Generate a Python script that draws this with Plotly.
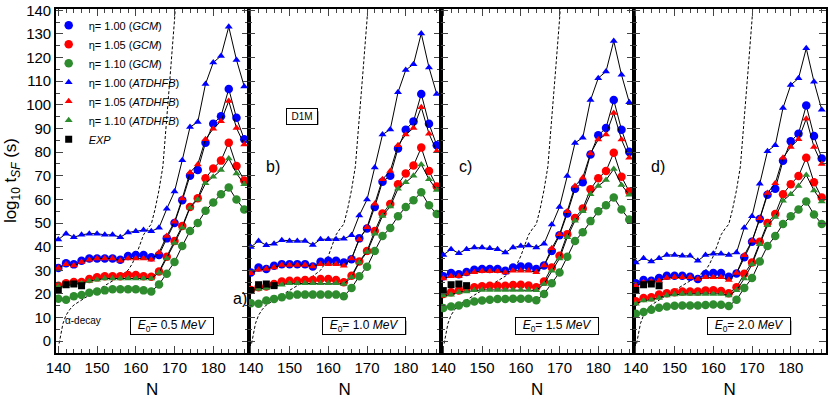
import plotly.graph_objects as go
from plotly.subplots import make_subplots

# ---------------------------------------------------------------
# Daten
# ---------------------------------------------------------------
N = list(range(140, 189, 2))

# E0 = 0.5 MeV
gcm100_a = [31, 33, 32.5, 34, 35, 35, 35, 35, 34.5, 36, 36.5, 36.5, 35.5, 36.5, 43.5, 50, 59.6, 70, 72.4, 84, 92, 95.2, 106.7, 94.5, 85.4]
gcm105_a = [23.5, 24.5, 25, 25, 26.3, 27, 27.5, 27.5, 27.5, 28, 28, 27.5, 27.3, 29.5, 35.7, 42.4, 48.7, 56.8, 60.5, 68.9, 73.1, 76.4, 84, 74.1, 68]
gcm110_a = [18, 17.5, 19, 19.5, 20.5, 21, 21.5, 22, 22, 22, 22, 21.5, 21, 24, 28.5, 33.5, 40.3, 46.6, 50, 55.2, 58.7, 62.2, 65, 59.9, 55.7]
atd100_a = [43, 45.5, 44, 45, 45.5, 45.5, 45, 45, 44, 46, 46.5, 47, 46.5, 48, 56, 63.3, 76.6, 90.6, 92.7, 108.8, 117.9, 120.7, 133, 119, 107.8]
atd105_a = [31, 32.5, 32, 33.5, 34.5, 35, 35, 35, 34, 35, 35, 35, 34.5, 37.5, 44.5, 50.5, 60.4, 71.4, 74.8, 85.4, 89.9, 93.1, 101.6, 90.2, 83.2]
atd110_a = [23, 23.5, 24, 24.5, 25.5, 26, 26.5, 26.5, 26.5, 26.5, 26.5, 26.5, 26.5, 29, 35, 41.5, 48, 56.5, 60, 66.8, 69.6, 72.4, 77.3, 71, 66.4]

# E0 = 1.0 MeV
gcm100_b = [29.1, 31.2, 30.5, 31.9, 32.6, 32.6, 32.6, 32.6, 31.6, 33.6, 34, 34, 33.3, 34.7, 43.5, 47.7, 56.8, 67.5, 70, 81.5, 89.5, 93, 104.6, 92, 82.9]
gcm105_b = [21.7, 22.8, 23.1, 24.2, 25.2, 25.6, 25.6, 25.9, 25.9, 26.3, 26.3, 25.9, 24.9, 27.7, 33.7, 38.2, 46.6, 54, 58, 66.4, 71, 74.3, 81.9, 72, 65.5]
gcm110_b = [16.1, 15.8, 17.2, 17.9, 18.6, 19.3, 19.7, 19.7, 19.7, 19.7, 19.7, 19.7, 19, 22.5, 27.5, 31.5, 38.2, 44.5, 47.9, 52.9, 56.8, 59.6, 63, 57.5, 53.8]
atd100_b = [39.8, 42.4, 40.6, 41.2, 42.7, 42.4, 42.4, 42.4, 40.7, 43.1, 43.1, 43.1, 43.3, 44.8, 53.2, 59.9, 73.5, 87.4, 89.6, 105.3, 114.7, 117.2, 130.2, 115.8, 104.6]
atd105_b = [28.7, 30.2, 30.5, 31.2, 32.2, 32.2, 32.2, 32.2, 31.6, 32.6, 32.6, 32.6, 31.9, 35, 43, 48.2, 58.2, 68.5, 72, 82.9, 87.4, 90.2, 99, 87.8, 80.4]
atd110_b = [21.4, 22.1, 22.5, 23.5, 23.9, 24.5, 24.5, 24.5, 24.5, 24.5, 24.5, 24.5, 24.2, 27, 33.3, 37.7, 45.5, 53, 57, 64.5, 67.2, 70, 74.8, 68.5, 64]

# E0 = 1.5 MeV
gcm100_c = [27.5, 28.8, 28.3, 29.3, 30.2, 30.5, 30.5, 30.5, 29.8, 31.2, 31.6, 31.6, 30.5, 32, 38.2, 44.8, 54, 64.5, 67.2, 79, 87.1, 90.2, 102, 89.5, 80.1]
gcm105_c = [20, 20.7, 21.4, 22.5, 22.8, 23.2, 23.5, 23.5, 23.5, 23.8, 23.9, 23.6, 22.8, 25.2, 31.2, 36.1, 45.2, 52.1, 56.1, 64.3, 68.9, 72, 79.7, 69.6, 63.3]
gcm110_c = [14, 14.7, 15.1, 16.1, 16.8, 17.2, 17.5, 17.8, 17.8, 18, 18, 18, 17.3, 20, 24.5, 29.1, 35.7, 42.4, 46.1, 50.8, 55, 57.5, 60.8, 55.7, 51.5]
atd100_c = [36.5, 38.9, 37.2, 38.9, 39.6, 39.6, 39.3, 38.9, 37.5, 39.6, 40.3, 40.5, 39.6, 41.2, 49.4, 56.8, 69.9, 83.9, 86.1, 102, 111.3, 114.1, 127, 112.7, 101.1]
atd105_c = [26.5, 27.5, 27.5, 28.5, 29.2, 29.6, 29.6, 29.6, 29.1, 29.8, 29.8, 29.8, 29.2, 32, 39.3, 45.2, 55, 65.7, 69.2, 79.4, 85.3, 87.5, 96.5, 85.3, 77.6]
atd110_c = [19.3, 19.6, 20.7, 21, 21.5, 21.7, 21.7, 21.7, 21.7, 21.7, 21.7, 21.7, 21.5, 24.2, 29.8, 35, 44, 51, 55, 62.2, 65.7, 68.2, 72.8, 66.1, 62]

# E0 = 2.0 MeV
gcm100_d = [24.5, 25.9, 25.6, 26.7, 27.7, 27.7, 27.7, 27.3, 26.3, 28.4, 28.8, 28.8, 27.3, 28.6, 35.5, 42.1, 51.7, 62, 64.5, 76.3, 84.6, 87.8, 99.7, 86.8, 77.3]
gcm105_d = [16.9, 18.3, 18.6, 19.7, 20.3, 20.7, 21, 21, 21, 21.4, 21.5, 21.2, 20.3, 22.8, 28.5, 33.3, 42.1, 50, 53.8, 62.2, 66.4, 69.9, 77.6, 67.2, 60.8]
gcm110_d = [11.6, 12.3, 13.3, 14.1, 14.7, 15, 15.1, 15.1, 15.1, 15.3, 15.5, 15.4, 14.9, 17.5, 22.5, 26.7, 33.7, 40.3, 44.5, 49.6, 52.9, 55.7, 59.1, 53.6, 49.6]
atd100_d = [33.3, 35.1, 33.7, 35.1, 36.5, 36.5, 36.1, 36.1, 34, 36.5, 37, 37, 36.5, 37.5, 48, 52.9, 66.6, 80.4, 82.9, 98.7, 108.4, 111.2, 123.9, 109.8, 97.9]
atd105_d = [23.5, 24.9, 25.2, 25.6, 26.7, 27, 27, 27, 26.3, 27, 27, 27, 25.9, 28.8, 36.4, 42.5, 52, 62.7, 66.8, 77.6, 82.2, 85.4, 94.1, 82.2, 75]
atd110_d = [15.8, 17.2, 17.5, 18.3, 19.3, 19.7, 20, 20, 20, 20, 20, 20, 19.3, 21.5, 26.5, 32.5, 41, 49, 52.5, 59.4, 62.2, 65.7, 70.3, 63.8, 59.1]

# Experiment
N_exp = [140, 142, 144, 146]
exp_val = [21.4, 23.9, 24.2, 23.5]

# alpha-Zerfall (gestrichelt)
alpha_n = [140.2, 140.7, 141.2, 142, 143, 144, 146, 148, 150, 152, 154, 156, 158, 159, 160,
           161, 162, 163, 164, 165, 166, 167, 168, 169, 170, 171]
alpha_v = [-1, 4, 7.5, 11, 13.5, 15.3, 17.5, 19.5, 21.5, 23.5, 25.5, 27.5, 30, 32.5, 36,
           40.5, 45, 47.5, 49.5, 56, 64, 74, 93, 115, 136, 160]

E0_labels = ["0.5", "1.0", "1.5", "2.0"]
panel_tags = ["a)", "b)", "c)", "d)"]

BLUE = "#0000ff"
RED = "#ff0000"
GREEN = "#2e8b2e"
FONT = "Liberation Sans, Arial, sans-serif"

series = [
    ("η= 1.00 (<i>GCM</i>)", [gcm100_a, gcm100_b, gcm100_c, gcm100_d], BLUE, "circle", 8.5),
    ("η= 1.05 (<i>GCM</i>)", [gcm105_a, gcm105_b, gcm105_c, gcm105_d], RED, "circle", 8.5),
    ("η= 1.10 (<i>GCM</i>)", [gcm110_a, gcm110_b, gcm110_c, gcm110_d], GREEN, "circle", 8.5),
    ("η= 1.00 (<i>ATDHFB</i>)", [atd100_a, atd100_b, atd100_c, atd100_d], BLUE, "triangle-up", 7),
    ("η= 1.05 (<i>ATDHFB</i>)", [atd105_a, atd105_b, atd105_c, atd105_d], RED, "triangle-up", 7),
    ("η= 1.10 (<i>ATDHFB</i>)", [atd110_a, atd110_b, atd110_c, atd110_d], GREEN, "triangle-up", 7),
]

fig = make_subplots(rows=1, cols=4, shared_yaxes=True, horizontal_spacing=0)

for p in range(4):
    col = p + 1
    # alpha-decay
    fig.add_trace(go.Scatter(x=alpha_n, y=alpha_v, mode="lines", showlegend=False,
                             line=dict(color="black", width=1, dash="3px,2px"),
                             hoverinfo="skip"), row=1, col=col)
    for name, data, color, sym, size in series:
        fig.add_trace(go.Scatter(
            x=N, y=data[p], mode="lines+markers", name=name, showlegend=False,
            line=dict(color="black", width=1),
            marker=dict(color=color, symbol=sym, size=size, line=dict(width=0))
        ), row=1, col=col)
    fig.add_trace(go.Scatter(
        x=N_exp, y=exp_val, mode="markers", name="EXP", showlegend=False,
        marker=dict(color="black", symbol="square", size=7, line=dict(width=0))
    ), row=1, col=col)

# Legende nur mit Symbolen
for name, data, color, sym, size in series:
    fig.add_trace(go.Scatter(x=[None], y=[None], mode="markers", name=name,
                             marker=dict(color=color, symbol=sym, size=size)), row=1, col=1)
fig.add_trace(go.Scatter(x=[None], y=[None], mode="markers", name="<i>EXP</i>",
                         marker=dict(color="black", symbol="square", size=7)), row=1, col=1)

# Achsen
for p in range(4):
    col = p + 1
    fig.update_xaxes(range=[139.4, 189.1], tick0=140, dtick=10, ticks="inside", ticklen=7,
                     tickwidth=1.2, showline=True, linewidth=1.6, linecolor="black",
                     mirror="allticks", showgrid=False, zeroline=False,
                     minor=dict(ticks="inside", dtick=2, ticklen=4, tickwidth=1),
                     tickfont=dict(size=15, family=FONT, color="black"),
                     title=dict(text="N", font=dict(size=17, family=FONT, color="black"), standoff=8),
                     row=1, col=col)
    fig.update_yaxes(range=[-5, 140.55], tick0=0, dtick=10, ticks="inside", ticklen=7,
                     tickwidth=1.2, showline=True, linewidth=1.6, linecolor="black",
                     mirror="allticks", showgrid=False, zeroline=False,
                     ticklabeloverflow="allow",
                     minor=dict(ticks="inside", dtick=5, ticklen=4, tickwidth=1),
                     tickfont=dict(size=15, family=FONT, color="black"),
                     row=1, col=col)

annotations = []
shapes = []
for p in range(4):
    xr = "x" if p == 0 else f"x{p + 1}"
    yr = "y" if p == 0 else f"y{p + 1}"
    tag_x, tag_y = (186.8, 18) if p == 0 else (145.6, 74)
    annotations.append(dict(x=tag_x, y=tag_y, xref=xr, yref=yr, text=panel_tags[p],
                            showarrow=False, font=dict(size=16, family=FONT, color="black")))
    # Schatten des E0-Kastens
    shapes.append(dict(type="rect", xref=xr, yref=yr, x0=159.6, x1=180.2, y0=2.7, y1=8.6,
                       fillcolor="#777777", line=dict(width=0), layer="above"))
    txt = f"<i>E</i><sub>0</sub>= {E0_labels[p]} <i>MeV</i>"
    annotations.append(dict(x=169.3, y=6.5, xref=xr, yref=yr, text=txt, showarrow=False,
                            width=80, height=14, bgcolor="white", bordercolor="black",
                            borderwidth=1, font=dict(size=12, family=FONT, color="black")))

shapes.append(dict(type="rect", xref="x2", yref="y2", x0=150.1, x1=157.5, y0=91.6, y1=97.3,
                   fillcolor="#777777", line=dict(width=0), layer="above"))
annotations.append(dict(x=153.3, y=95.2, xref="x2", yref="y2", text="D1M", showarrow=False,
                        width=28, height=13, bgcolor="white", bordercolor="black", borderwidth=1,
                        font=dict(size=10, family=FONT, color="black")))
annotations.append(dict(x=146.4, y=8.8, xref="x", yref="y", text="α-decay", showarrow=False,
                        font=dict(size=10, family=FONT, color="black")))
annotations.append(dict(x=-0.057, y=0.5, xref="paper", yref="paper", textangle=-90,
                        xanchor="center", yanchor="middle",
                        text="log<sub>10</sub> t<sub><i>SF</i></sub> (s)", showarrow=False,
                        font=dict(size=17, family=FONT, color="black")))

fig.update_layout(
    width=830, height=399,
    margin=dict(l=56, r=2, t=6, b=46),
    plot_bgcolor="white", paper_bgcolor="white",
    font=dict(family=FONT, color="black"),
    annotations=annotations,
    shapes=shapes,
    showlegend=True,
    legend=dict(x=-0.0095, y=0.995, xanchor="left", yanchor="top",
                bgcolor="rgba(0,0,0,0)", font=dict(size=11, family=FONT, color="black"),
                itemwidth=30, tracegroupgap=0),
)

fig.write_html("out.html", config={"displayModeBar": False},
               post_script="document.body.style.margin='0';")
